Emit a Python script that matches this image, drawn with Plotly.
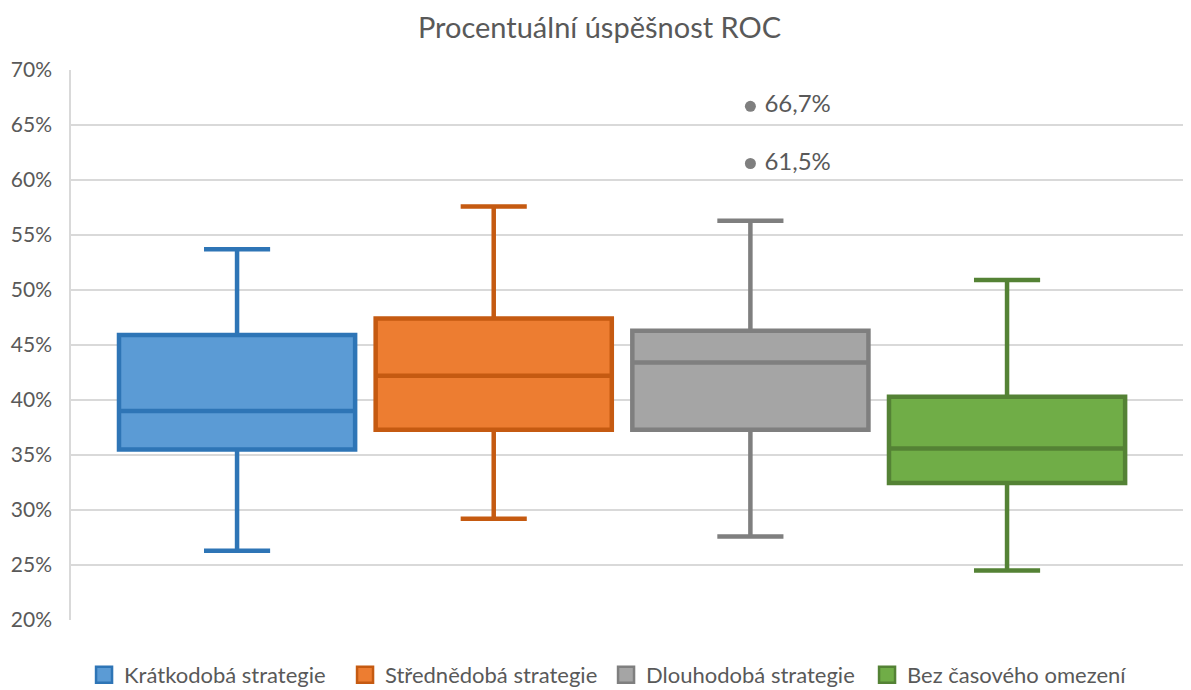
import plotly.graph_objects as go

# Box statistics (values in percent)
series = ["Krátkodobá strategie", "Střednědobá strategie", "Dlouhodobá strategie", "Bez časového omezení"]
lower_fence = [26.3, 29.2, 27.6, 24.5]
q1 = [35.5, 37.3, 37.3, 32.45]
median = [39.0, 42.2, 43.4, 35.6]
q3 = [45.9, 47.4, 46.3, 40.3]
upper_fence = [53.7, 57.6, 56.3, 50.9]

# outliers of the long-term strategy
outlier_values = [66.7, 61.5]
outlier_labels = [f"{v:.1f}%".replace(".", ",") for v in outlier_values]

y_ticks = [20, 25, 30, 35, 40, 45, 50, 55, 60, 65, 70]
y_tick_text = [f"{v}%" for v in y_ticks]

fills = ["#5B9BD5", "#ED7D31", "#A5A5A5", "#70AD47"]
edges = ["#2E75B6", "#C55A11", "#7F7F7F", "#548235"]

fig = go.Figure()

for i, name in enumerate(series):
    fig.add_trace(go.Box(
        name=name,
        x=[i],
        q1=[q1[i]],
        median=[median[i]],
        q3=[q3[i]],
        lowerfence=[lower_fence[i]],
        upperfence=[upper_fence[i]],
        width=0.92,
        whiskerwidth=0.28,
        fillcolor=fills[i],
        line=dict(color=edges[i], width=4.5),
        boxpoints=False,
        hoverinfo="skip",
        showlegend=False,
    ))
    # square legend swatch like in Excel
    fig.add_trace(go.Scatter(
        name=name,
        x=[None], y=[None],
        mode="markers",
        marker=dict(symbol="square", size=18, color=fills[i],
                    line=dict(color=edges[i], width=2.5)),
    ))

# outlier points with their labels
fig.add_trace(go.Scatter(
    x=[2] * len(outlier_values),
    y=outlier_values,
    mode="markers+text",
    text=outlier_labels,
    texttemplate=" %{text}",
    textposition="middle right",
    textfont=dict(size=24, color="#595959"),
    marker=dict(color="#7F7F7F", size=11),
    showlegend=False,
    cliponaxis=False,
))

# the page adds an 8px body margin, so the figure is a bit smaller than the window
fig.update_layout(
    width=1183,
    height=682,
    plot_bgcolor="white",
    paper_bgcolor="white",
    font=dict(family="Lato, 'Noto Sans', sans-serif", color="#595959", size=18),
    title=dict(text="Procentuální úspěšnost ROC", x=0.5, xanchor="center",
               y=0.9707, yanchor="middle", font=dict(size=29, color="#595959")),
    margin=dict(l=63, r=3, t=62, b=70, autoexpand=False),
    legend=dict(orientation="h", x=0.479, xanchor="center", y=-0.1, yanchor="middle",
                font=dict(size=22, color="#595959"), itemwidth=30,
                entrywidth=216, entrywidthmode="pixels"),
    boxgap=0,
)

fig.update_xaxes(range=[-0.647, 3.705], showticklabels=False, showgrid=False,
                 zeroline=False, showline=False)
fig.update_yaxes(range=[20, 70], tickmode="array", tickvals=y_ticks, ticktext=y_tick_text,
                 showgrid=True, gridcolor="#D9D9D9", gridwidth=1.5, automargin=False,
                 zeroline=False, showline=True, linecolor="#D9D9D9", linewidth=1.5,
                 ticks="", ticklen=0, ticklabelstandoff=13,
                 tickfont=dict(size=21, color="#595959"))

fig.write_html("out.html")
